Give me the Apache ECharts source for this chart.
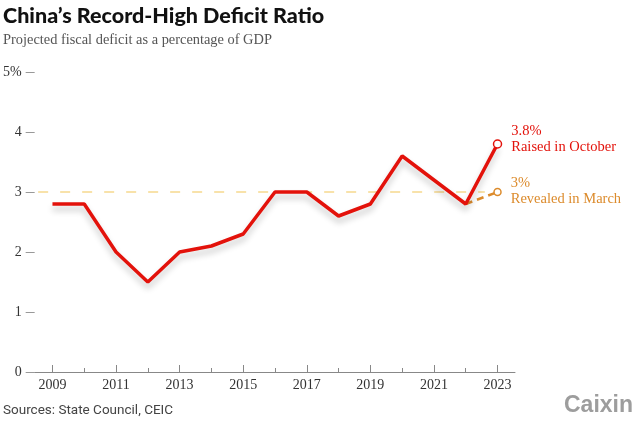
<!DOCTYPE html>
<html><head><meta charset="utf-8">
<script src="https://cdn.jsdelivr.net/npm/echarts@6/dist/echarts.min.js"></script>
<style>html,body{margin:0;padding:0;background:#fff}#c{width:640px;height:426px}</style>
</head><body><div id="c"></div>
<script>
var years = [2009,2010,2011,2012,2013,2014,2015,2016,2017,2018,2019,2020,2021,2022,2023];
var deficit = [2.8,2.8,2.0,1.5,2.0,2.1,2.3,3.0,3.0,2.6,2.8,3.6,3.2,2.8,3.8];
var marchYears = [2022,2023];
var marchValues = [2.8,3.0];
var refLevel = 3;
var xLabelYears = [2009,2011,2013,2015,2017,2019,2021,2023];
var xMinorYears = [2010,2012,2014,2016,2018,2020,2022];

var serif = '"Liberation Serif","DejaVu Serif",serif';
var chart = echarts.init(document.getElementById('c'));
var redData = years.map(function(y,i){ return [y, deficit[i]]; });
var lastIdx = redData.length - 1;
redData[lastIdx] = {value: redData[lastIdx], symbol:'circle', symbolSize:8,
  itemStyle:{color:'#fff', borderColor:'#e3120b', borderWidth:1.5},
  label:{show:true, position:'right', distance:9, offset:[0,-5], color:'#e3120b',
    fontFamily:serif, fontSize:14.5, lineHeight:16,
    formatter: deficit[lastIdx] + '%\nRaised in October'}};
var orangeData = marchYears.map(function(y,i){ return [y, marchValues[i]]; });
orangeData[1] = {value: orangeData[1], symbol:'circle', symbolSize:7,
  itemStyle:{color:'#fff', borderColor:'#dc8b2c', borderWidth:1.5},
  label:{show:true, position:'right', distance:9, offset:[0,-1], color:'#dc8b2c',
    fontFamily:serif, fontSize:14.5, lineHeight:16,
    formatter: marchValues[1] + '%\nRevealed in March'}};

chart.setOption({
  animation:false,
  grid:{left:33, right:125, top:72, bottom:54, containLabel:false},
  xAxis:[{
    type:'value', min:2008.44, max:2023.55,
    axisLine:{show:true, lineStyle:{color:'#888', width:1}},
    axisTick:{show:true, inside:true, length:7, lineStyle:{color:'#888'}, customValues:xLabelYears},
    axisLabel:{show:true, customValues:xLabelYears, color:'#333', fontFamily:serif, fontSize:14, margin:6,
      formatter:function(v){return String(v);}},
    splitLine:{show:false}
  },{
    type:'value', min:2008.44, max:2023.55, position:'bottom',
    axisLine:{show:false},
    axisTick:{show:true, inside:true, length:4, lineStyle:{color:'#888'}, customValues:xMinorYears},
    axisLabel:{show:false}, splitLine:{show:false}
  }],
  yAxis:{
    type:'value', min:0, max:5, interval:1,
    axisLine:{show:false},
    axisTick:{show:true, length:9, lineStyle:{color:'#999'}},
    axisLabel:{color:'#333', fontFamily:serif, fontSize:14, margin:13,
      formatter:function(v){ return v===5 ? v+'%' : String(v); }},
    splitLine:{show:false}
  },
  series:[{
    type:'line', data:[[2008.55, refLevel],[2022.6, refLevel]], symbol:'none', silent:true,
    lineStyle:{color:'#f6d98e', width:1.5, type:[10,12]}, z:1
  },{
    type:'line', data:orangeData, symbol:'none',
    lineStyle:{color:'#dc8b2c', width:2.5, type:[7,5]}, z:2
  },{
    type:'line', data:redData, symbol:'none',
    lineStyle:{color:'#e3120b', width:3.5, shadowColor:'rgba(0,0,0,0.22)', shadowBlur:6, shadowOffsetY:5},
    z:3
  }],
  graphic:[
    {type:'text', left:3, top:5, style:{text:'China\u2019s Record-High Deficit Ratio', font:'900 21.5px Lato, sans-serif', fill:'#111'}},
    {type:'text', left:3, top:33, style:{text:'Projected fiscal deficit as a percentage of GDP', font:'14.4px '+serif, fill:'#555'}},
    {type:'text', left:3, top:404, style:{text:'Sources: State Council, CEIC', font:'13.5px Roboto, sans-serif', fill:'#444'}},
    {type:'text', right:7, top:394, style:{text:'Caixin', font:'bold 23px "Liberation Sans", Arial, sans-serif', fill:'#9d9d9d'}}
  ]
});
</script></body></html>
